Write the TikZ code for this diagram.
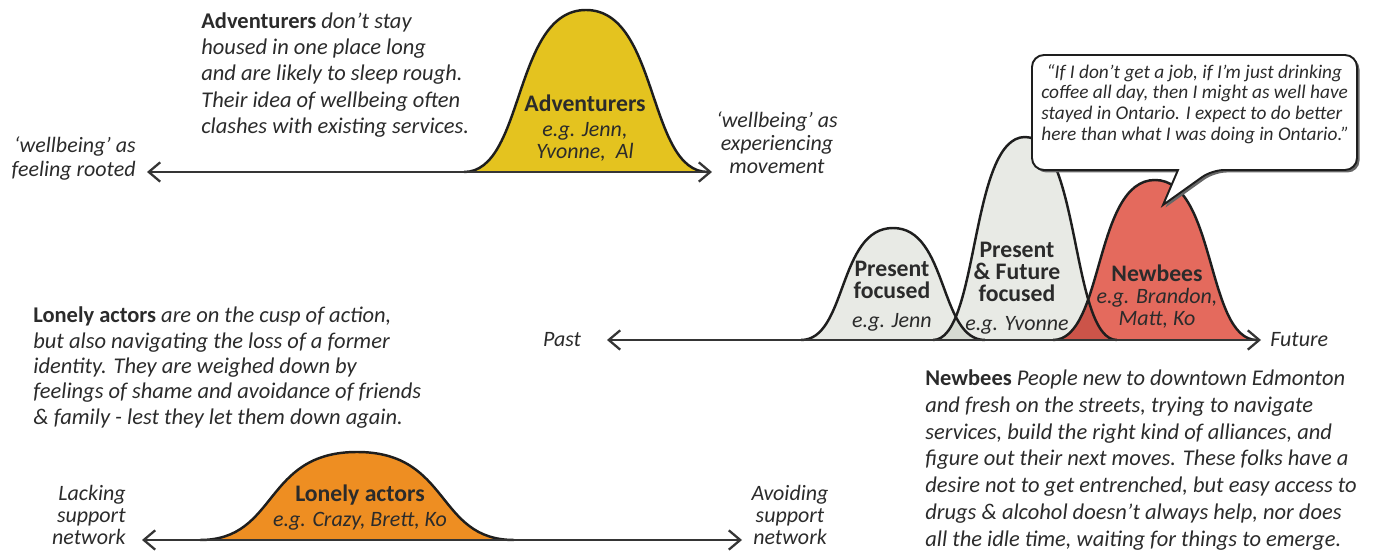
\documentclass[tikz,border=0pt]{standalone}
\usepackage{fontspec}
\setmainfont{Carlito}
\usetikzlibrary{arrows.meta}
\definecolor{txt}{HTML}{2B2B2B}
\definecolor{ink}{HTML}{1E1E1E}
\definecolor{ylw}{HTML}{E4C31F}
\definecolor{org}{HTML}{EE8E22}
\definecolor{redF}{HTML}{E46A5D}
\definecolor{redD}{HTML}{CC5449}
\definecolor{gryF}{HTML}{E8EAE5}
\definecolor{gryD}{HTML}{D6DAD2}
\tikzset{
  bellpath/.style n args={4}{insert path={({#1-#2},#3) .. controls ({#1-0.5*#2},#3) and ({#1-0.6*#2},#4) .. (#1,#4) .. controls ({#1+0.6*#2},#4) and ({#1+0.5*#2},#3) .. ({#1+#2},#3)}},
  bubblepath/.style={insert path={[rounded corners=0.24cm] (1200,55) -- (1357,55) -- (1357,170) -- (1212,170) [sharp corners] -- (1163,205) -- (1178,170) [rounded corners=0.24cm] -- (1032,170) -- (1032,55) -- cycle}},
}
\begin{document}
\begin{tikzpicture}[x=0.02cm, y=-0.02cm,
  every node/.style={text=txt, inner sep=0pt},
  desc/.style={align=left, anchor=west},
  lab/.style={font=\fontsize{12.5}{13.2}\selectfont\itshape},
  inbell/.style={align=center, font=\fontsize{12.5}{12.5}\selectfont},
  outline/.style={draw=ink, line width=1.4pt},
  axis/.style={draw=ink!90, line width=1.1pt, {Straight Barb[length=6.5pt,width=11pt,line width=1.3pt]}-{Straight Barb[length=6.5pt,width=11pt,line width=1.3pt]}},
]
\useasboundingbox (0,0) rectangle (1374,553);

% ---------------- Adventurers ----------------
\fill[ylw] [bellpath={586}{122}{172}{10}] -- cycle;
\draw[outline] [bellpath={586}{122}{172}{10}];
\coordinate (tL) at (147,172);
\coordinate (tR) at (712,172);
\draw[axis] (tL) -- (tR);
\node[desc, font=\fontsize{12.8}{15}\selectfont\itshape] (advdesc) at (201,75)
  {\textup{\bfseries Adventurers} don’t stay\\housed in one place long\\and are likely to sleep rough.\\Their idea of wellbeing often\\clashes with existing services.};
\node[lab, align=right, anchor=east] (rooted) at (136,158.5) {‘wellbeing’ as\\feeling rooted};
\node[lab, align=center] (moving) at (777,142.5) {‘wellbeing’ as\\experiencing\\movement};
\node[inbell] (adv) at (585,128) {\textbf{\fontsize{13.5}{13.5}\selectfont Adventurers}\\[2pt]\textit{e.g. Jenn,}\\\textit{Yvonne,\ \ Al}};

% ---------------- Middle: time orientation ----------------
\fill[gryF] [bellpath={893}{92}{340}{228}] -- cycle;
\fill[gryF] [bellpath={1025}{92}{340}{137}] -- cycle;
\fill[redF] [bellpath={1155}{102}{340}{180}] -- cycle;
\begin{scope}
  \clip [bellpath={893}{92}{340}{228}] -- cycle;
  \fill[gryD] [bellpath={1025}{92}{340}{137}] -- cycle;
\end{scope}
\begin{scope}
  \clip [bellpath={1025}{92}{340}{137}] -- cycle;
  \fill[redD] [bellpath={1155}{102}{340}{180}] -- cycle;
\end{scope}
\draw[outline] [bellpath={893}{92}{340}{228}];
\draw[outline] [bellpath={1025}{92}{340}{137}];
\draw[outline] [bellpath={1155}{102}{340}{180}];
\coordinate (mL) at (607,340);
\coordinate (mR) at (1261,340);
\draw[axis] (mL) -- (mR);
\node[lab] (past) at (562,340) {Past};
\node[lab, anchor=west] (future) at (1270,340) {Future};
\node[inbell] (present) at (892,296) {\textbf{\fontsize{13.5}{11.5}\selectfont Present}\\\textbf{\fontsize{13.5}{11.5}\selectfont focused}\\[4pt]\textit{e.g. Jenn}};
\node[inbell] (pf) at (1017,288) {\textbf{\fontsize{13.5}{11.5}\selectfont Present}\\\textbf{\fontsize{13.5}{11.5}\selectfont \& Future}\\\textbf{\fontsize{13.5}{11.5}\selectfont focused}\\[4pt]\textit{e.g. Yvonne}};
\node[inbell] (newb) at (1157,297) {\textbf{\fontsize{13.5}{11.5}\selectfont Newbees}\\\textit{e.g. Brandon,}\\\textit{Matt, Ko}};

% speech bubble
\fill[black!60] [shift={(2.5,2.5)}, bubblepath];
\draw[ink, line width=1.1pt, fill=white] [bubblepath];
\node[desc, font=\fontsize{11}{11.8}\selectfont\itshape] (quote) at (1041,104)
  {\hspace*{3pt}“If I don’t get a job, if I’m just drinking\\coffee all day, then I might as well have\\stayed in Ontario. I expect to do better\\here than what I was doing in Ontario.”};

\node[desc, font=\fontsize{12.8}{15.3}\selectfont\itshape] (nbdesc) at (925,460)
  {\textup{\bfseries Newbees} People new to downtown Edmonton\\and fresh on the streets, trying to navigate\\services, build the right kind of alliances, and\\figure out their next moves. These folks have a\\desire not to get entrenched, but easy access to\\drugs \& alcohol doesn’t always help, nor does\\all the idle time, waiting for things to emerge.};

% ---------------- Lonely actors ----------------
\node[desc, font=\fontsize{12.8}{14.4}\selectfont\itshape] (ladesc) at (33,367.5)
  {\textup{\bfseries Lonely actors} are on the cusp of action,\\but also navigating the loss of a former\\identity. They are weighed down by\\feelings of shame and avoidance of friends\\\& family - lest they let them down again.};
\fill[org] [bellpath={357}{157}{540}{452}] -- cycle;
\draw[outline] [bellpath={357}{157}{540}{452}];
\coordinate (bL) at (142,540);
\coordinate (bR) at (742,540);
\draw[axis] (bL) -- (bR);
\node[inbell] (lonely) at (360,507.5) {\textbf{\fontsize{13.5}{13.5}\selectfont Lonely actors}\\[2pt]\textit{e.g. Crazy, Brett, Ko}};
\node[lab, align=right, anchor=east, font=\fontsize{12.5}{12.6}\selectfont\itshape] (lacking) at (126,515) {Lacking\\support\\network};
\node[lab, align=center, font=\fontsize{12.5}{12.6}\selectfont\itshape] (avoiding) at (790,515) {Avoiding\\support\\network};
\end{tikzpicture}
\end{document}
